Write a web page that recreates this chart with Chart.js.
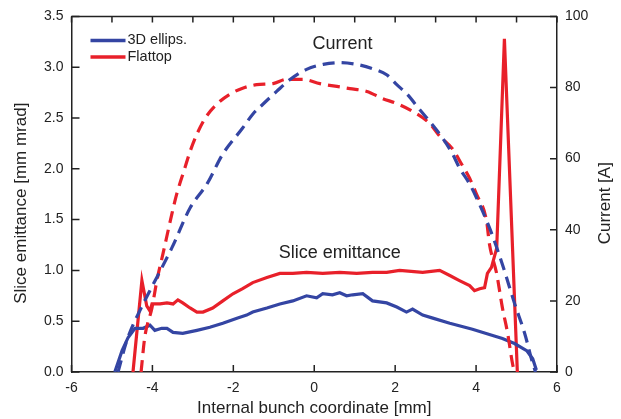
<!DOCTYPE html>
<html>
<head>
<meta charset="utf-8">
<script src="https://cdn.jsdelivr.net/npm/chart.js@4/dist/chart.umd.min.js"></script>
<style>
html,body{margin:0;padding:0;background:#fff;}
#wrap{width:621px;height:419px;position:relative;}
</style>
</head>
<body>
<div id="wrap"><canvas id="c" width="621" height="419"></canvas></div>
<script>
// ---- data ----
const seriesNames = ['3D ellips.', 'Flattop'];

const ellipsEmitX = [-4.93,-4.75,-4.60,-4.43,-4.23,-4.06,-3.94,-3.77,-3.64,-3.49,-3.25,-2.90,-2.58,-2.26,-1.91,-1.67,-1.52,-1.17,-0.85,-0.53,-0.19,0.06,0.21,0.45,0.63,0.80,0.95,1.20,1.44,1.79,2.04,2.28,2.43,2.68,2.93,3.35,3.91,4.33,4.65,4.95,5.25,5.40,5.49];
const ellipsEmitY = [0,0.21,0.34,0.43,0.43,0.46,0.41,0.43,0.43,0.39,0.38,0.41,0.44,0.48,0.53,0.56,0.59,0.63,0.67,0.70,0.75,0.73,0.77,0.76,0.78,0.75,0.76,0.77,0.70,0.68,0.64,0.59,0.62,0.56,0.53,0.48,0.42,0.37,0.33,0.28,0.21,0.13,0.02];

const flatEmitX = [-4.48,-4.26,-4.14,-4.06,-4.01,-3.81,-3.64,-3.49,-3.37,-3.25,-3.07,-2.90,-2.75,-2.51,-2.26,-2.01,-1.77,-1.52,-1.17,-0.85,-0.53,-0.19,0.21,0.63,1.05,1.44,1.79,2.11,2.68,3.10,3.35,3.59,3.84,3.96,4.09,4.21,4.28,4.38,4.51,4.70,5.02];
const flatEmitY = [0,0.90,0.65,0.60,0.67,0.67,0.68,0.67,0.71,0.68,0.63,0.59,0.59,0.63,0.70,0.77,0.82,0.88,0.93,0.97,0.97,0.98,0.97,0.98,0.97,0.98,0.98,1.00,0.98,1.00,0.95,0.90,0.85,0.80,0.82,0.83,0.97,1.03,1.22,3.28,0];

const ellipsCurX = [-4.85,-4.63,-4.31,-4.06,-3.52,-3.07,-2.65,-2.26,-1.77,-1.52,-1.27,-0.93,-0.59,-0.19,0.22,0.63,1.05,1.44,1.79,2.04,2.28,2.60,2.85,3.17,3.42,3.59,3.84,4.01,4.33,4.51,4.70,4.95,5.20,5.40,5.47];
const ellipsCurY = [0,8.9,17.3,22.9,34.9,46.1,52.9,61.3,68.6,72.5,75.3,78.9,82.3,85.1,86.5,87.0,86.5,85.3,83.6,80.8,78.3,73.9,70.5,65.8,61.3,57.4,52.9,49.0,40.6,35.0,28.5,19.3,10.9,2.4,0];

const flatCurX = [-4.28,-4.19,-4.01,-3.89,-3.74,-3.52,-3.40,-3.20,-3.07,-2.90,-2.70,-2.41,-2.09,-1.77,-1.42,-1.02,-0.68,-0.28,0.14,0.56,0.88,1.30,1.69,2.04,2.43,2.85,3.10,3.42,3.64,3.84,4.01,4.26,4.33,4.51,4.65,4.78,4.90,4.95];
const flatCurY = [0,9.7,18.1,25.7,33.2,44.4,50.0,57.3,62.0,66.9,71.3,75.3,78.1,79.8,80.8,81.1,82.3,82.3,81.1,80.3,79.7,78.9,76.9,75.5,73.3,69.9,66.3,62.7,58.5,54.5,50.0,42.4,36.0,27.6,18.1,10.9,2.4,0];

const xTickValues = [-6,-4,-2,0,2,4,6];
const emitTickValues = [0,0.5,1.0,1.5,2.0,2.5,3.0,3.5];
const currentTickValues = [0,20,40,60,80,100];
const axisTitles = {
  x: 'Internal bunch coordinate [mm]',
  y: 'Slice emittance [mm mrad]',
  y2: 'Current [A]'
};
const annotations = [
  {text:'Current', x:0.70, y:3.23},
  {text:'Slice emittance', x:0.63, y:1.17}
];

// ---- styles ----
const BLUE = '#3445a3';
const RED = '#e8202a';
const INK = '#222222';
const FONT = "'Liberation Sans', Arial, sans-serif";

const pts = (xs, ys) => xs.map((x, i) => ({x, y: ys[i]}));

const tickPlugin = {
  id: 'frameTicks',
  afterDraw(chart) {
    const ctx = chart.ctx, a = chart.chartArea;
    const x = chart.scales.x, y = chart.scales.y, y2 = chart.scales.y2;
    ctx.save();
    ctx.strokeStyle = INK;
    ctx.lineWidth = 1.5;
    // top border
    ctx.beginPath(); ctx.moveTo(a.left, a.top); ctx.lineTo(a.right, a.top); ctx.stroke();
    // inward ticks
    ctx.beginPath();
    for (let v = -6; v <= 6; v += 1) {
      const px = x.getPixelForValue(v);
      ctx.moveTo(px, a.top); ctx.lineTo(px, a.top + 6);
    }
    xTickValues.forEach(v => {
      const px = x.getPixelForValue(v);
      ctx.moveTo(px, a.bottom); ctx.lineTo(px, a.bottom - 7);
    });
    emitTickValues.forEach(v => {
      const py = y.getPixelForValue(v);
      ctx.moveTo(a.left, py); ctx.lineTo(a.left + 8, py);
    });
    currentTickValues.forEach(v => {
      const py = y2.getPixelForValue(v);
      ctx.moveTo(a.right, py); ctx.lineTo(a.right - 7, py);
    });
    ctx.stroke();
    // legend
    const lg = [{c: BLUE, t: seriesNames[0], yy: a.top + 24}, {c: RED, t: seriesNames[1], yy: a.top + 40.5}];
    ctx.font = '14.5px ' + FONT;
    ctx.textBaseline = 'middle';
    ctx.fillStyle = INK;
    lg.forEach(l => {
      ctx.strokeStyle = l.c; ctx.lineWidth = 3.5;
      ctx.beginPath(); ctx.moveTo(a.left + 19, l.yy); ctx.lineTo(a.left + 54, l.yy); ctx.stroke();
      ctx.fillText(l.t, a.left + 56, l.yy);
    });
    // annotations
    ctx.font = '18px ' + FONT;
    ctx.textAlign = 'center';
    annotations.forEach(n => {
      ctx.fillText(n.text, x.getPixelForValue(n.x), y.getPixelForValue(n.y));
    });
    // vertical axis titles (both read bottom-to-top)
    ctx.font = '17px ' + FONT;
    const cy = (a.top + a.bottom) / 2 + 9;
    [[y.left + 21, axisTitles.y], [y2.right - 16, axisTitles.y2]].forEach(([tx, t]) => {
      ctx.save();
      ctx.translate(tx, cy);
      ctx.rotate(-Math.PI / 2);
      ctx.fillText(t, 0, 0);
      ctx.restore();
    });
    ctx.restore();
  }
};

const lineDs = (label, data, color, dashed, axis) => ({
  label, data, borderColor: color, backgroundColor: color,
  borderWidth: 3.2, pointRadius: 0, tension: dashed ? 0.3 : 0,
  borderDash: dashed ? [12, 7] : [], yAxisID: axis, fill: false,
  cubicInterpolationMode: dashed ? 'monotone' : 'default'
});

new Chart(document.getElementById('c'), {
  type: 'line',
  data: {
    datasets: [
      lineDs(seriesNames[0] + ' current', pts(ellipsCurX, ellipsCurY), BLUE, true, 'y2'),
      lineDs(seriesNames[1] + ' current', pts(flatCurX, flatCurY), RED, true, 'y2'),
      lineDs(seriesNames[0] + ' emittance', pts(ellipsEmitX, ellipsEmitY), BLUE, false, 'y'),
      lineDs(seriesNames[1] + ' emittance', pts(flatEmitX, flatEmitY), RED, false, 'y')
    ]
  },
  options: {
    responsive: false,
    animation: false,
    devicePixelRatio: 1,
    layout: {padding: {top: 14, left: 0, right: 0, bottom: 0}},
    plugins: {legend: {display: false}, tooltip: {enabled: false}},
    scales: {
      x: {
        type: 'linear', min: -6, max: 6,
        afterBuildTicks: s => { s.ticks = xTickValues.map(v => ({value: v})); },
        afterFit: s => { s.height = 47; },
        grid: {drawOnChartArea: false, drawTicks: false},
        border: {display: true, color: INK, width: 1.5},
        ticks: {color: INK, font: {family: FONT, size: 14}, padding: 8, maxRotation: 0},
        title: {display: true, text: axisTitles.x, color: INK,
                font: {family: FONT, size: 17}, padding: {top: 2, bottom: 0}}
      },
      y: {
        type: 'linear', position: 'left', min: 0, max: 3.5,
        afterBuildTicks: s => { s.ticks = emitTickValues.map(v => ({value: v})); },
        afterFit: s => { s.width = 71.5; },
        grid: {drawOnChartArea: false, drawTicks: false},
        border: {display: true, color: INK, width: 1.5},
        ticks: {color: INK, font: {family: FONT, size: 14}, padding: 8,
                callback: v => Number(v).toFixed(1)},
        title: {display: false}
      },
      y2: {
        type: 'linear', position: 'right', min: 0, max: 100,
        afterBuildTicks: s => { s.ticks = currentTickValues.map(v => ({value: v})); },
        afterFit: s => { s.width = 64; },
        grid: {drawOnChartArea: false, drawTicks: false},
        border: {display: true, color: INK, width: 1.5},
        ticks: {color: INK, font: {family: FONT, size: 14}, padding: 8},
        title: {display: false}
      }
    }
  },
  plugins: [tickPlugin]
});
</script>
</body>
</html>
